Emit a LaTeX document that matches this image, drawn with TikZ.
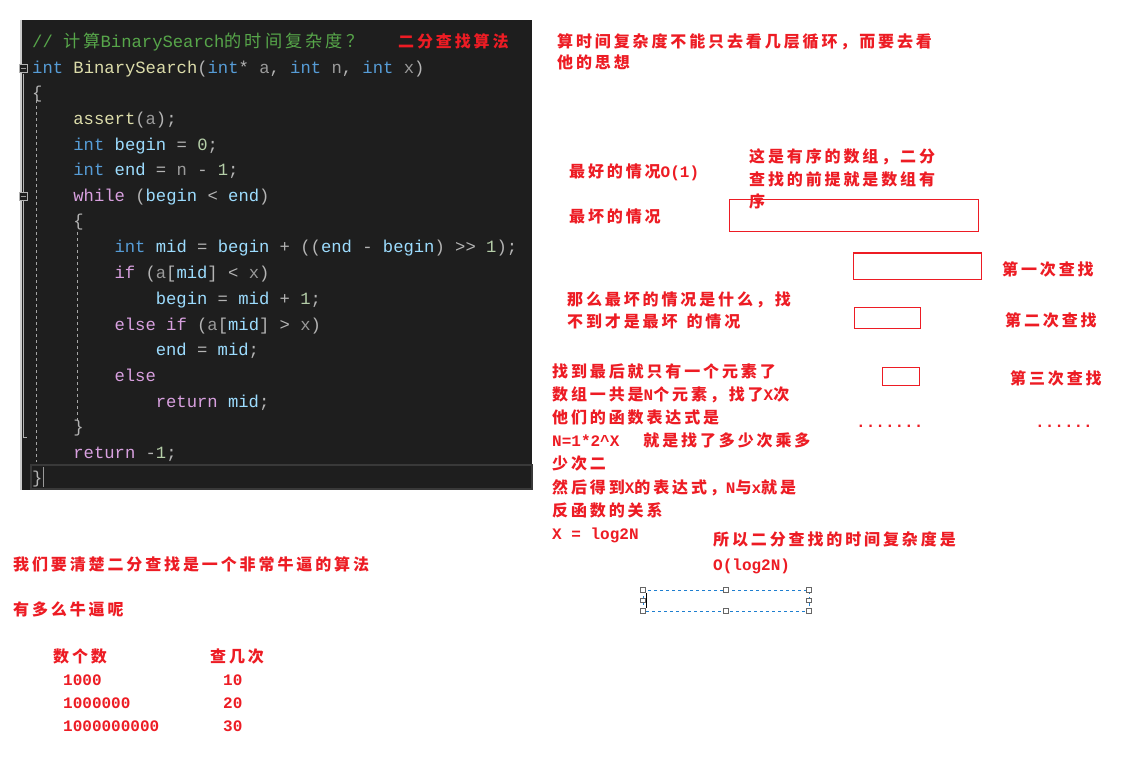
\documentclass[tikz,border=0pt]{standalone}
\usepackage{fontspec}
\newfontfamily\zhf[LetterSpace=18]{Noto Sans CJK SC}
\newfontfamily\enf[Ligatures=ResetAll]{Liberation Mono}
\newcommand\ZH[1]{{\zhf #1}}
\newcommand\EN[1]{{\enf #1}}
\definecolor{ckw}{HTML}{569CD6}
\definecolor{cfn}{HTML}{DCDCAA}
\definecolor{cid}{HTML}{9CDCFE}
\definecolor{cpar}{HTML}{9A9A9A}
\definecolor{cnum}{HTML}{B5CEA8}
\definecolor{cpun}{HTML}{B4B4B4}
\definecolor{cctl}{HTML}{D8A0DF}
\definecolor{ccom}{HTML}{57A64A}
\definecolor{cbg}{HTML}{1E1E1E}
\definecolor{cred}{HTML}{ED1C24}
\definecolor{cblue}{HTML}{1E7FD0}
\newcommand\Kw[1]{\textcolor{ckw}{#1}}
\newcommand\Fn[1]{\textcolor{cfn}{#1}}
\newcommand\Id[1]{\textcolor{cid}{#1}}
\newcommand\Pa[1]{\textcolor{cpar}{#1}}
\newcommand\Nu[1]{\textcolor{cnum}{#1}}
\newcommand\Pu[1]{\textcolor{cpun}{#1}}
\newcommand\Ct[1]{\textcolor{cctl}{#1}}
\tikzset{
  cd/.style={anchor=base west, inner sep=0pt, font=\enf\fontsize{17.2}{20}\selectfont},
  rt/.style={anchor=base west, inner sep=0pt, text=cred, font=\zhf\bfseries\fontsize{16}{20}\selectfont},
  rbox/.style={draw=cred, line width=1pt},
  handle/.style={draw=gray!80!black, fill=white, line width=0.6pt, minimum size=4.5pt, inner sep=0pt},
  guide/.style={draw=gray!70, dash pattern=on 3pt off 3pt, line width=0.8pt},
  fold/.style={draw=gray!60, fill=cbg, line width=0.6pt, minimum size=8pt, inner sep=0pt}
}
\begin{document}
\begin{tikzpicture}[x=1pt,y=-1pt]
\useasboundingbox (0,0) rectangle (1134,759);
\fill[white] (0,0) rectangle (1134,759);
% code panel
\fill[cbg] (22,20) rectangle (532,490);
\draw[gray!40, line width=1.2pt] (21,20) -- (21,490);
\draw[gray!60, line width=1pt] (23,74) -- (23,437) -- (27,437);
\draw[guide] (36,100) -- (36,462);
\draw[guide] (77,232) -- (77,420);
\node[fold] (f1) at (23,68) {};
\draw[gray!80] (20.5,68) -- (25.5,68);
\node[fold] (f2) at (23,196) {};
\draw[gray!80] (20.5,196) -- (25.5,196);
\draw[gray!45!black, line width=1.5pt] (31,465) rectangle (532,489);
\draw[gray!80, line width=1pt] (43,467) -- (43,487);
% code lines
\node[cd] (c0) at (32,48) {\textcolor{ccom}{// \ZH{计算}BinarySearch\ZH{的时间复杂度？}}};
\node[rt] (title) at (398,48) {二分查找算法};
\node[cd] (c1) at (32,74) {\Kw{int} \Fn{BinarySearch}\Pu{(}\Kw{int}\Pu{*} \Pa{a}\Pu{,} \Kw{int} \Pa{n}\Pu{,} \Kw{int} \Pa{x}\Pu{)}};
\node[cd] (c2) at (32,99) {\Pu{\{}};
\node[cd] (c3) at (73.2,125) {\Fn{assert}\Pu{(}\Pa{a}\Pu{);}};
\node[cd] (c4) at (73.2,151) {\Kw{int} \Id{begin} \Pu{=} \Nu{0}\Pu{;}};
\node[cd] (c5) at (73.2,176) {\Kw{int} \Id{end} \Pu{=} \Pa{n} \Pu{-} \Nu{1}\Pu{;}};
\node[cd] (c6) at (73.2,202) {\Ct{while} \Pu{(}\Id{begin} \Pu{<} \Id{end}\Pu{)}};
\node[cd] (c7) at (73.2,227) {\Pu{\{}};
\node[cd] (c8) at (114.4,253) {\Kw{int} \Id{mid} \Pu{=} \Id{begin} \Pu{+} \Pu{((}\Id{end} \Pu{-} \Id{begin}\Pu{)} \Pu{>{}>} \Nu{1}\Pu{);}};
\node[cd] (c9) at (114.4,278) {\Ct{if} \Pu{(}\Pa{a}\Pu{[}\Id{mid}\Pu{]} \Pu{<} \Pa{x}\Pu{)}};
\node[cd] (c10) at (155.6,304) {\Id{begin} \Pu{=} \Id{mid} \Pu{+} \Nu{1}\Pu{;}};
\node[cd] (c11) at (114.4,330) {\Ct{else} \Ct{if} \Pu{(}\Pa{a}\Pu{[}\Id{mid}\Pu{]} \Pu{>} \Pa{x}\Pu{)}};
\node[cd] (c12) at (155.6,355) {\Id{end} \Pu{=} \Id{mid}\Pu{;}};
\node[cd] (c13) at (114.4,381) {\Ct{else}};
\node[cd] (c14) at (155.6,407) {\Ct{return} \Id{mid}\Pu{;}};
\node[cd] (c15) at (73.2,432) {\Pu{\}}};
\node[cd] (c16) at (73.2,458) {\Ct{return} \Pu{-}\Nu{1}\Pu{;}};
\node[cd] (c17) at (32,483) {\Pu{\}}};
% right side notes
\node[rt] (n1a) at (557,48) {算时间复杂度不能只去看几层循环，而要去看};
\node[rt] (n1b) at (557,69) {他的思想};
\node[rt] (best) at (569,178) {最好的情况\EN{O(1)}};
\node[rt] (ord1) at (749,163) {这是有序的数组，二分};
\node[rt] (ord2) at (749,186) {查找的前提就是数组有};
\node[rt] (ord3) at (749,208) {序};
\node[rt] (worst) at (569,223) {最坏的情况};
\draw[rbox] (729,200) rectangle (978,232);
\draw[rbox] (853,253) rectangle (981,279);
\node[rt] (s1) at (1002,276) {第一次查找};
\node[rt] (w1) at (567,305) {那么最坏的情况是什么，找};
\node[rt] (w2) at (567,327) {不到才是最坏\hspace{9pt}的情况};
\draw[rbox] (854,307) rectangle (920,328);
\node[rt] (s2) at (1005,326) {第二次查找};
\draw[rbox] (882,367) rectangle (919,385);
\node[rt] (s3) at (1010,384) {第三次查找};
\node[rt] (d1) at (856,427) {\EN{.......}};
\node[rt] (d2) at (1035,427) {\EN{......}};
\node[rt] (e1) at (552,377) {找到最后就只有一个元素了};
\node[rt] (e2) at (552,400) {数组一共是\EN{N}个元素，找了\EN{X}次};
\node[rt] (e3) at (552,423) {他们的函数表达式是};
\node[rt] (e4) at (552,446) {\EN{N=1*2\textasciicircum X}\hspace{24pt}就是找了多少次乘多};
\node[rt] (e5) at (552,469) {少次二};
\node[rt] (e6) at (552,493) {然后得到\EN{X}的表达式，\EN{N}与\EN{x}就是};
\node[rt] (e7) at (552,516) {反函数的关系};
\node[rt] (e8) at (552,539) {\EN{X = log2N}};
\node[rt] (r1) at (713,545) {所以二分查找的时间复杂度是};
\node[rt] (r2) at (713,570) {\EN{O(log2N)}};
% selected empty text box
\draw[cblue, dashed, line width=0.8pt] (643,590) rectangle (809,611);
\foreach \p in {(643,590),(726,590),(809,590),(643,600.5),(809,600.5),(643,611),(726,611),(809,611)}
  \node[handle] at \p {};
\draw[black, line width=1pt] (646,593) -- (646,608);
% bottom-left notes
\node[rt] (b1) at (13,570) {我们要清楚二分查找是一个非常牛逼的算法};
\node[rt] (b2) at (13,615) {有多么牛逼呢};
\node[rt] (h1) at (53,662) {数个数};
\node[rt] (h2) at (210,662) {查几次};
\node[rt] (v1) at (63,685) {\EN{1000}};
\node[rt] (v2) at (223,685) {\EN{10}};
\node[rt] (v3) at (63,708) {\EN{1000000}};
\node[rt] (v4) at (223,708) {\EN{20}};
\node[rt] (v5) at (63,731) {\EN{1000000000}};
\node[rt] (v6) at (223,731) {\EN{30}};
\end{tikzpicture}
\end{document}
